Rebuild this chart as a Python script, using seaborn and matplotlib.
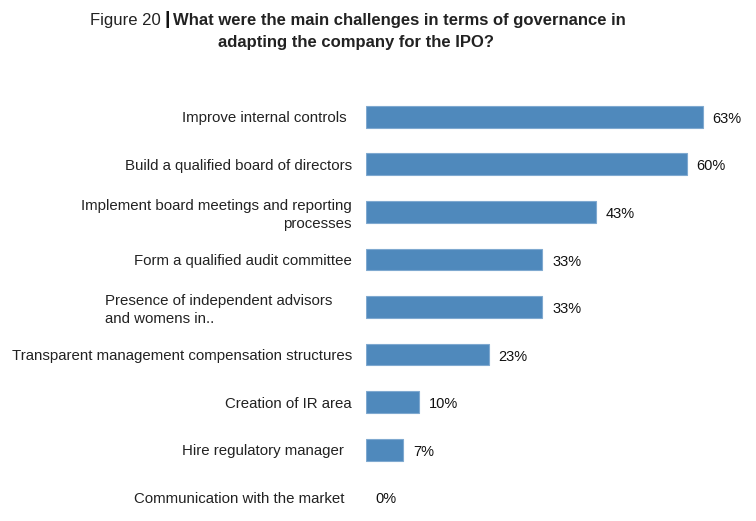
import matplotlib.pyplot as plt
import pandas as pd
import seaborn as sns

# survey answers, share of respondents (%)
challenges = [
    "Improve internal controls",
    "Build a qualified board of directors",
    "Implement board meetings and reporting\nprocesses",
    "Form a qualified audit committee",
    "Presence of independent advisors\nand womens in..",
    "Transparent management compensation structures",
    "Creation of IR area",
    "Hire regulatory manager",
    "Communication with the market",
]
shares = [63, 60, 43, 33, 33, 23, 10, 7, 0]
share_labels = ["63%", "60%", "43%", "33%", "33%", "23%", "10%", "7%", "0%"]

BAR_COLOR = "#4f89bc"


def main():
    sns.set_theme(style="white")
    plt.rcParams["font.family"] = ["Liberation Sans", "DejaVu Sans"]

    df = pd.DataFrame({"challenge": challenges, "share": shares})

    fig = plt.figure(figsize=(7.56, 5.21), dpi=100)
    ax = fig.add_axes([0.484, 0.0, 0.516, 0.8215])

    sns.barplot(
        data=df,
        x="share",
        y="challenge",
        order=challenges,
        color=BAR_COLOR,
        saturation=1,
        width=0.46,
        edgecolor="#7fa9d0",
        linewidth=0.8,
        ax=ax,
    )
    # no outline on empty bars
    for patch in ax.patches:
        if patch.get_width() == 0:
            patch.set_linewidth(0)

    ax.set_xlim(0, 72.9)
    ax.set_ylim(len(challenges) - 0.5, -0.5)
    ax.set_xlabel("")
    ax.set_ylabel("")
    ax.set_xticks([])
    sns.despine(ax=ax, left=True, bottom=True)
    ax.tick_params(axis="y", length=0, pad=10, labelsize=10.8, labelcolor="#222222")

    for lbl in ax.get_yticklabels():
        lbl.set_linespacing(1.35)
        if lbl.get_text().startswith("Presence"):
            lbl.set_multialignment("left")
            lbl.set_x(-0.05)
        elif lbl.get_text() == "Improve internal controls":
            lbl.set_x(-0.015)
        elif lbl.get_text() in ("Hire regulatory manager", "Communication with the market"):
            lbl.set_x(-0.02)

    for i, (val, txt) in enumerate(zip(shares, share_labels)):
        ax.annotate(txt, xy=(val, i), xytext=(7, -1.5), textcoords="offset points",
                    ha="left", va="center", fontsize=10.5, color="#111111")

    # two-part title: plain figure number, bold question
    fig.text(161 / 756, 1 - 20 / 521, "Figure 20", ha="right", va="center",
             fontsize=12, color="#222222")
    fig.text(165 / 756, 1 - 19 / 521, "|", ha="left", va="center",
             fontsize=14, fontweight="bold", color="#111111")
    fig.text(173 / 756, 1 - 20 / 521,
             "What were the main challenges in terms of governance in",
             ha="left", va="center", fontsize=12, fontweight="bold", color="#222222")
    fig.text(356 / 756, 1 - 42 / 521, "adapting the company for the IPO?",
             ha="center", va="center", fontsize=12, fontweight="bold", color="#222222")

    fig.savefig("out.png", dpi=100, facecolor="white")


if __name__ == "__main__":
    main()
